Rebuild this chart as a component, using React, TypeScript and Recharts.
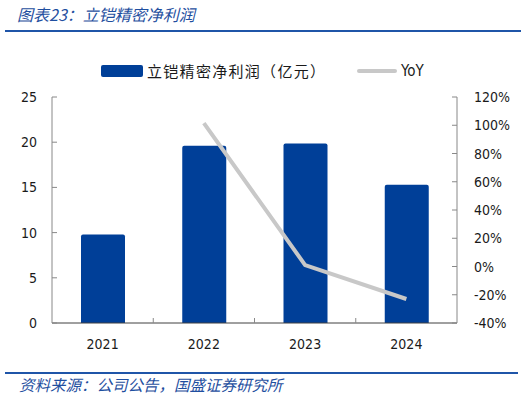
import React from 'react';
import { ComposedChart, Bar, Line, XAxis, YAxis } from 'recharts';

const categories = ['2021', '2022', '2023', '2024'];
const netProfit = [9.8, 19.6, 19.85, 15.3];
const yoy: (number | null)[] = [null, 101.5, 1, -23];
const leftTicks = [0, 5, 10, 15, 20, 25];
const rightTicks = [-40, -20, 0, 20, 40, 60, 80, 100, 120];

const data = categories.map((c, i) => ({ year: c, profit: netProfit[i], yoy: yoy[i] }));

const FONT = '"DejaVu Sans Condensed", "DejaVu Sans", Verdana, sans-serif';
const CJK = '"Noto Sans CJK SC", sans-serif';
const BLUE = '#003f98';
const TITLE_BLUE = '#1f4fa0';
const GRAY = '#c8c8c8';
const BAND = (457 - 52) / 4;
const TICK_FS = 14;

const LeftTick = (props: any) => {
  const { x, y, payload } = props;
  return (
    <g>
      <line x1={x} y1={y} x2={x + 5} y2={y} stroke="#888" strokeWidth={1} />
      <text x={x - 15} y={y} dy="0.36em" textAnchor="end" fontSize={TICK_FS} fontFamily={FONT} fontStretch="condensed" fill="#1a1a1a">
        {payload.value}
      </text>
    </g>
  );
};

const RightTick = (props: any) => {
  const { x, y, payload } = props;
  return (
    <g>
      <line x1={x - 5} y1={y} x2={x} y2={y} stroke="#888" strokeWidth={1} />
      <text x={x + 17} y={y} dy="0.36em" textAnchor="start" fontSize={TICK_FS} fontFamily={FONT} fontStretch="condensed" fill="#1a1a1a">
        {payload.value}%
      </text>
    </g>
  );
};

const BottomTick = (props: any) => {
  const { x, y, payload, index } = props;
  const last = index === categories.length - 1;
  return (
    <g>
      {!last && (
        <line x1={x + BAND / 2} y1={y} x2={x + BAND / 2} y2={y - 5} stroke="#888" strokeWidth={1} />
      )}
      <text x={x} y={y + 21} dy="0.36em" textAnchor="middle" fontSize={TICK_FS} fontFamily={FONT} fontStretch="condensed" fill="#1a1a1a">
        {payload.value}
      </text>
    </g>
  );
};

export default function App() {
  return (
    <div style={{ position: 'absolute', left: 0, top: 0, width: 526, height: 398, background: '#fff', overflow: 'hidden' }}>
      <div style={{ position: 'absolute', left: 17, top: 3, fontFamily: CJK, fontStyle: 'italic', fontSize: 16, color: TITLE_BLUE, lineHeight: '22px', whiteSpace: 'nowrap' }}>
        图表23：立铠精密净利润
      </div>
      <div style={{ position: 'absolute', left: 5, top: 30, width: 516, height: 2, background: '#1f55a8' }} />

      <div style={{ position: 'absolute', left: 101, top: 65, width: 42, height: 12, background: BLUE, borderRadius: 2 }} />
      <div style={{ position: 'absolute', left: 147, top: 60, fontFamily: CJK, fontSize: 15, letterSpacing: 1.3, color: '#1a1a1a', lineHeight: '22px', whiteSpace: 'nowrap' }}>
        立铠精密净利润（亿元）
      </div>
      <div style={{ position: 'absolute', left: 357, top: 69, width: 40, height: 4, background: GRAY, borderRadius: 2 }} />
      <div style={{ position: 'absolute', left: 401, top: 60, fontFamily: FONT, fontStretch: 'condensed', fontSize: 15, color: '#1a1a1a', lineHeight: '22px', whiteSpace: 'nowrap' }}>
        YoY
      </div>

      <div style={{ position: 'absolute', left: 0, top: 0 }}>
        <ComposedChart width={526} height={398} data={data} margin={{ top: 97, right: 0, bottom: 45, left: 0 }}>
          <XAxis
            dataKey="year"
            height={30}
            tickSize={0}
            tickMargin={0}
            tick={<BottomTick />}
            axisLine={{ stroke: '#404040', strokeWidth: 1 }}
            tickLine={false}
            interval={0}
          />
          <YAxis
            yAxisId="left"
            orientation="left"
            width={52}
            domain={[0, 25]}
            ticks={leftTicks}
            tickSize={0}
            tickMargin={0}
            tick={<LeftTick />}
            axisLine={{ stroke: '#888', strokeWidth: 1 }}
            tickLine={false}
            interval={0}
          />
          <YAxis
            yAxisId="right"
            orientation="right"
            width={69}
            domain={[-40, 120]}
            ticks={rightTicks}
            tickSize={0}
            tickMargin={0}
            tick={<RightTick />}
            axisLine={{ stroke: '#888', strokeWidth: 1 }}
            tickLine={false}
            interval={0}
          />
          <Bar yAxisId="left" dataKey="profit" fill={BLUE} barSize={44} radius={[2, 2, 0, 0]} isAnimationActive={false} />
          <Line
            yAxisId="right"
            dataKey="yoy"
            stroke={GRAY}
            strokeWidth={4}
            dot={false}
            activeDot={false}
            type="linear"
            connectNulls={false}
            isAnimationActive={false}
          />
        </ComposedChart>
      </div>

      <div style={{ position: 'absolute', left: 5, top: 372, width: 513, height: 2, background: '#1f55a8' }} />
      <div style={{ position: 'absolute', left: 19, top: 373, fontFamily: CJK, fontStyle: 'italic', fontSize: 15.5, color: TITLE_BLUE, lineHeight: '22px', whiteSpace: 'nowrap' }}>
        资料来源：公司公告，国盛证券研究所
      </div>
    </div>
  );
}
